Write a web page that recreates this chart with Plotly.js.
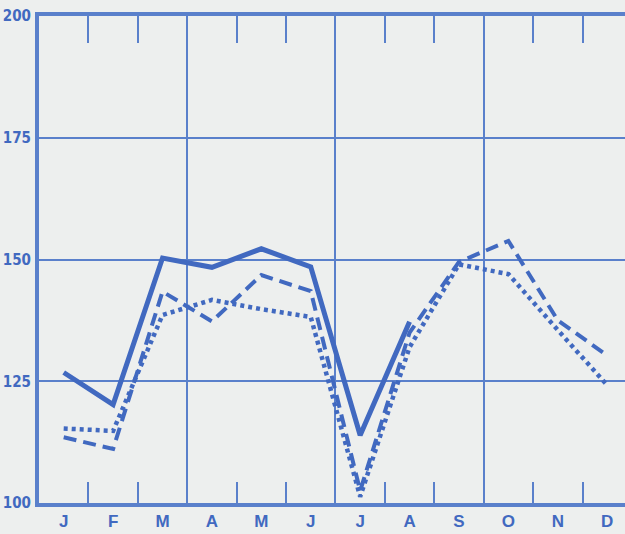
<!DOCTYPE html>
<html>
<head>
<meta charset="utf-8">
<script src="https://cdn.plot.ly/plotly-3.0.1.min.js"></script>
<style>
  html, body { margin: 0; padding: 0; background: #edefee; }
  #chart { width: 625px; height: 534px; }
</style>
</head>
<body>
<div id="chart"></div>
<script>
// Months (x positions are month centres: index + 0.5)
const months = ["J", "F", "M", "A", "M", "J", "J", "A", "S", "O", "N", "D"];
const monthPos = [0.5, 1.5, 2.5, 3.5, 4.5, 5.5, 6.5, 7.5, 8.5, 9.5, 10.5, 11.5];

// Series values
const solidValues  = [126.8, 120.2, 150.3, 148.4, 152.2, 148.5, 113.9, 137.2];
const dashedValues = [113.5, 111.1, 143.4, 137.3, 146.8, 143.5, 102.5, 135.0, 149.5, 153.8, 137.5, 130.3];
const dottedValues = [115.3, 114.8, 138.6, 141.7, 139.8, 138.2, 101.3, 132.0, 149.0, 147.0, 135.5, 124.2];

// Y ticks
const yTicks = [100, 125, 150, 175, 200];
// month boundaries (minor ticks) and quarter boundaries (grid lines)
const monthBoundaries = [1, 2, 4, 5, 7, 8, 10, 11];
const quarterBoundaries = [3, 6, 9];

const lineColor = "#4169c0";
const gridColor = "#5a80cb";
const bg = "#edefee";

const traces = [
  { x: monthPos.slice(0, solidValues.length), y: solidValues, mode: "lines",
    line: { color: lineColor, width: 5, dash: "solid" }, hoverinfo: "skip" },
  { x: monthPos, y: dashedValues, mode: "lines",
    line: { color: lineColor, width: 4, dash: "13px,7px" }, hoverinfo: "skip" },
  { x: monthPos, y: dottedValues, mode: "lines",
    line: { color: lineColor, width: 4.5, dash: "4px,4px" }, hoverinfo: "skip" },
  { x: [], y: [], xaxis: "x2", yaxis: "y", hoverinfo: "skip" },
  { x: [], y: [], xaxis: "x3", yaxis: "y", hoverinfo: "skip" },
  { x: [], y: [], xaxis: "x4", yaxis: "y", hoverinfo: "skip" }
];

const xRange = [0, 11.86];

const layout = {
  width: 625, height: 534,
  paper_bgcolor: bg, plot_bgcolor: bg,
  showlegend: false,
  margin: { l: 39, r: 0, t: 16, b: 31, pad: 0 },
  xaxis: {
    range: xRange, tickmode: "array", tickvals: monthPos, ticktext: months,
    ticks: "", showgrid: false, zeroline: false,
    showline: true, linecolor: gridColor, linewidth: 4, mirror: true,
    tickfont: { family: "Liberation Sans, Arial, sans-serif", size: 17, color: lineColor, weight: "bold" },
    ticklabelstandoff: 0
  },
  xaxis2: {
    overlaying: "x", side: "bottom", range: xRange, tickmode: "array", tickvals: monthBoundaries,
    ticks: "inside", ticklen: 21, tickwidth: 2, tickcolor: gridColor,
    showticklabels: false, showgrid: false, zeroline: false, showline: false
  },
  xaxis3: {
    overlaying: "x", side: "top", range: xRange, tickmode: "array", tickvals: monthBoundaries,
    ticks: "inside", ticklen: 27, tickwidth: 2, tickcolor: gridColor,
    showticklabels: false, showgrid: false, zeroline: false, showline: false
  },
  xaxis4: {
    overlaying: "x", side: "bottom", range: xRange, tickmode: "array", tickvals: quarterBoundaries,
    ticks: "", showticklabels: false, showgrid: true, gridcolor: gridColor, gridwidth: 2,
    zeroline: false, showline: false
  },
  yaxis: {
    range: [100, 200], tickmode: "array", tickvals: yTicks, ticktext: yTicks.map(String),
    ticks: "", showgrid: true, gridcolor: gridColor, gridwidth: 2, zeroline: false,
    showline: true, linecolor: gridColor, linewidth: 4,
    tickfont: { family: "Liberation Sans Narrow, DejaVu Sans Condensed, sans-serif", size: 15, color: lineColor, weight: "bold" },
    ticklabelstandoff: 1
  }
};

Plotly.newPlot("chart", traces, layout, { staticPlot: true, displayModeBar: false });
</script>
</body>
</html>
